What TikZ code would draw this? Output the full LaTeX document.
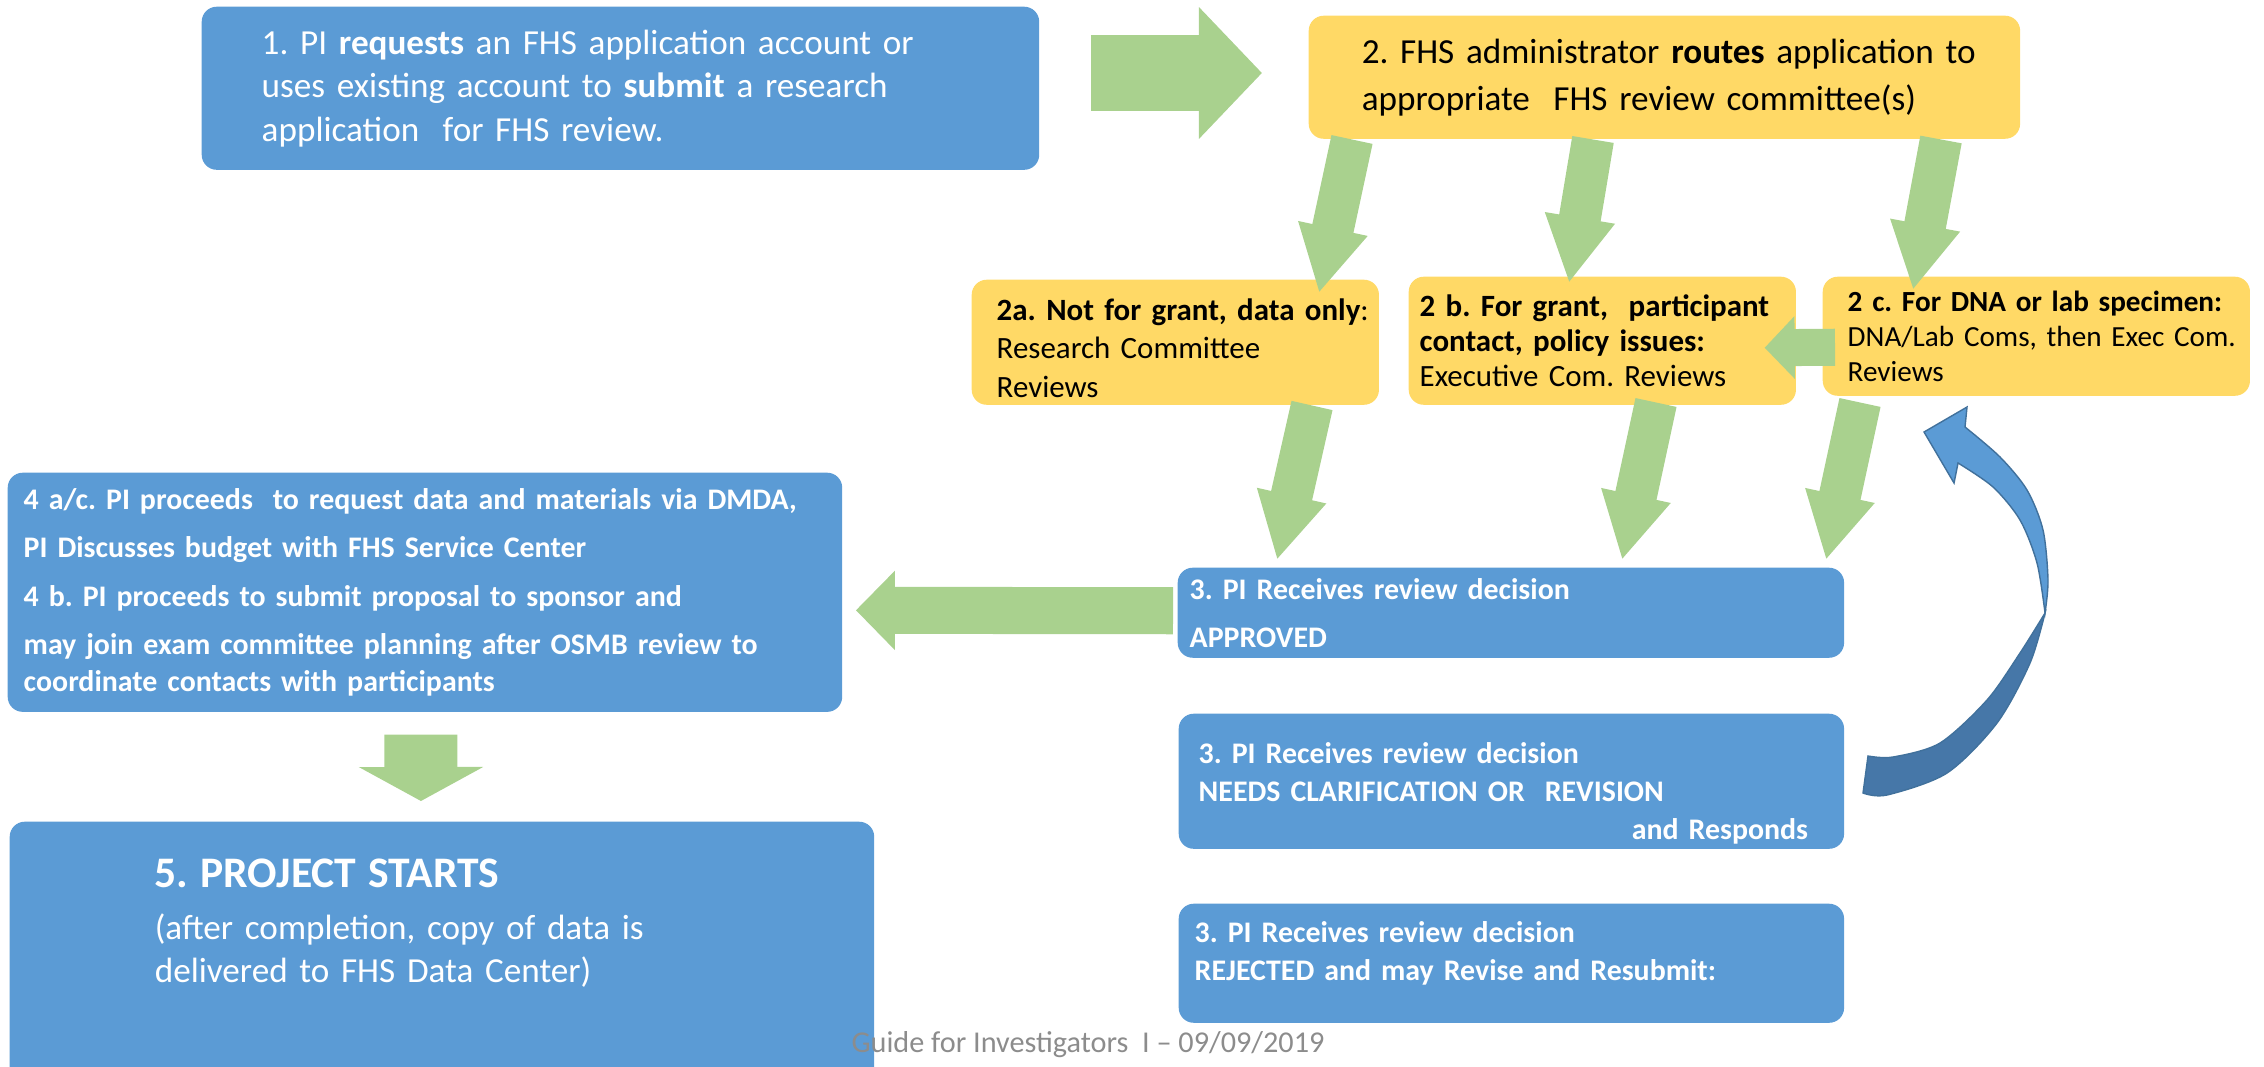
\documentclass[tikz,border=0pt]{standalone}
\usepackage{fontspec}
\setmainfont{Carlito}
\frenchspacing
\usetikzlibrary{arrows.meta}
\usetikzlibrary{positioning}
\usetikzlibrary{calc}

\definecolor{boxblue}{HTML}{5B9BD5}
\definecolor{boxyellow}{HTML}{FFD966}
\definecolor{arrowgreen}{HTML}{A9D18E}
\definecolor{backblue}{HTML}{4677A8}
\definecolor{edgeblue}{HTML}{41719C}
\definecolor{footgray}{HTML}{8C8C8C}

\begin{document}
\begin{tikzpicture}
        [x=0.01cm,y=-0.01cm,
        bluebox/.style={rectangle,rounded corners=0.15cm,fill=boxblue,text=white,inner sep=0pt,align=left,anchor=north west},
        yellowbox/.style={rectangle,rounded corners=0.15cm,fill=boxyellow,text=black,inner sep=0pt,align=left,anchor=north west},
        textpad/.style 2 args={text width=#1,execute at begin node={\leftskip=#2\relax}},
        flow/.style={draw=arrowgreen,line width=0.42cm,-{Triangle[length=0.66cm,width=0.66cm]}},
        bigflow/.style={draw=arrowgreen,line width=0.76cm,-{Triangle[length=0.63cm,width=1.28cm]}},
        backflow/.style={draw=arrowgreen,line width=0.47cm,-{Triangle[length=0.39cm,width=0.77cm]}},
        sideflow/.style={draw=arrowgreen,line width=0.37cm,-{Triangle[length=0.30cm,width=0.61cm]}},
        downflow/.style={draw=arrowgreen,line width=0.73cm,-{Triangle[length=0.34cm,width=1.23cm]}}]

\path[use as bounding box,clip] (0,0) rectangle (2264,1066);

% Application %
\node[bluebox,minimum width=8.37cm,minimum height=1.63cm,textpad={8.17cm}{0.50cm},
      font=\fontsize{10}{12.4}\selectfont] (apply) at (201,6)
      {1. PI \textbf{requests} an FHS application account or\\
       uses existing account to \textbf{submit} a research\\
       application\ \ for FHS review.};
\node[yellowbox,minimum width=7.11cm,minimum height=1.23cm,textpad={6.91cm}{0.43cm},
      font=\fontsize{10}{13.4}\selectfont] (route) at (1308,15)
      {2. FHS administrator \textbf{routes} application to\\
       appropriate\ \ FHS review committee(s)};

% Committees %
\node[yellowbox,minimum width=4.07cm,minimum height=1.25cm,textpad={3.97cm}{0.20cm},text depth=0.66cm,
      font=\fontsize{8.8}{11}\selectfont] (resc) at (971,279)
      {\textbf{2a. Not for grant, data only}:\\ Research Committee\\ Reviews};
\node[yellowbox,minimum width=3.87cm,minimum height=1.28cm,textpad={3.77cm}{0.06cm},
      font=\fontsize{8.8}{10}\selectfont] (exec) at (1408,276)
      {\textbf{2 b. For grant,\ \ participant}\\ \textbf{contact, policy issues:}\\ Executive Com. Reviews};
\node[yellowbox,minimum width=4.27cm,minimum height=1.19cm,textpad={4.17cm}{0.20cm},
      font=\fontsize{8.3}{10}\selectfont] (dna) at (1822,276)
      {\textbf{2 c. For DNA or lab specimen:}\\ DNA/Lab Coms, then Exec Com.\\ Reviews};

% Decisions %
\node[bluebox,minimum width=6.66cm,minimum height=0.90cm,textpad={6.56cm}{0.07cm},
      font=\bfseries\fontsize{8.5}{10.5}\selectfont] (approved) at (1177,567)
      {3. PI Receives review decision\\[3.2pt] APPROVED};
\node[bluebox,minimum width=6.65cm,minimum height=1.35cm,textpad={6.55cm}{0.15cm},text depth=0.57cm,
      font=\bfseries\fontsize{8.5}{10.9}\selectfont] (revise) at (1178,713)
      {3. PI Receives review decision\\ NEEDS CLARIFICATION OR\ \ REVISION\\
       \hspace*{\fill}and Responds\hspace*{0.31cm}};
\node[bluebox,minimum width=6.65cm,minimum height=1.19cm,textpad={6.55cm}{0.11cm},text depth=0.63cm,
      font=\bfseries\fontsize{8.5}{10.9}\selectfont] (rejected) at (1178,903)
      {3. PI Receives review decision\\ REJECTED and may Revise and Resubmit:};

% Next steps %
\node[bluebox,minimum width=8.34cm,minimum height=2.39cm,textpad={8.24cm}{0.11cm},
      font=\bfseries\fontsize{8.5}{10.5}\selectfont] (proceed) at (7,472)
      {4 a/c. PI proceeds\ \ to request data and materials via DMDA,\\[3.2pt]
       PI Discusses budget with FHS Service Center\\[3.2pt]
       4 b. PI proceeds to submit proposal to sponsor and\\[3.2pt]
       may join exam committee planning after OSMB review to\\
       coordinate contacts with participants};
\node[bluebox,minimum width=8.64cm,minimum height=2.70cm,textpad={8.44cm}{1.35cm},text depth=1.67cm,
      font=\fontsize{10}{12.2}\selectfont] (start) at (9,821)
      {{\fontsize{12.4}{15}\selectfont\textbf{5. PROJECT STARTS}}\\[2.5pt]
       (after completion, copy of data is\\ delivered to FHS Data Center)};

\node[text=footgray,font=\fontsize{8.6}{10}\selectfont,inner sep=0pt] (footer) at (1088,1045)
      {Guide for Investigators\ \ I -- 09/09/2019};

% Pfeile %
\draw[bigflow] ($(apply.north east)+(51,67)$) -- ($(route.north west)+(-46,58)$);
\foreach \x/\to/\tx/\ty in {44/resc/348/14, 285/exec/161/7, 633/dna/91/14}
        \draw[flow] ($(route.south west)+(\x,0)$) -- ($(\to.north west)+(\tx,\ty)$);
\foreach \from/\x/\y/\tx in {resc/341/0/100, exec/248/-3/445, dna/38/6/649}
        \draw[flow] ($(\from.south west)+(\x,\y)$) -- ($(approved.north west)+(\tx,-7)$);
\draw[sideflow] ($(dna.west)+(13,11)$) -- ($(exec.east)+(-32,7)$);
\draw[backflow] ($(approved.west)+(-4,-2)$) -- ($(proceed.east)+(13,18)$);
\draw[downflow] ($(proceed.south)+(-4,22)$) -- ($(start.north)+(-21,-20)$);

% Rueckweg %
\fill[backblue,draw=edgeblue,line width=0.4pt]
        plot[smooth] coordinates {(1868,756) (1893,757) (1940,743) (1987,700) (2020,653) (2045,613)}
        -- plot[smooth] coordinates {(2045,613) (2030,663) (1997,723) (1947,773) (1887,795) (1863,793)}
        -- cycle;
\fill[boxblue,draw=edgeblue,line width=0.4pt]
        plot[smooth] coordinates {(2045,613) (2048,580) (2043,530) (2027,490) (2000,457) (1965,427)}
        -- (1967,407) -- (1924,432) -- (1954,483) -- (1958,463)
        -- plot[smooth] coordinates {(1958,463) (1993,487) (2020,520) (2037,563) (2045,613)}
        -- cycle;
\end{tikzpicture}
\end{document}
